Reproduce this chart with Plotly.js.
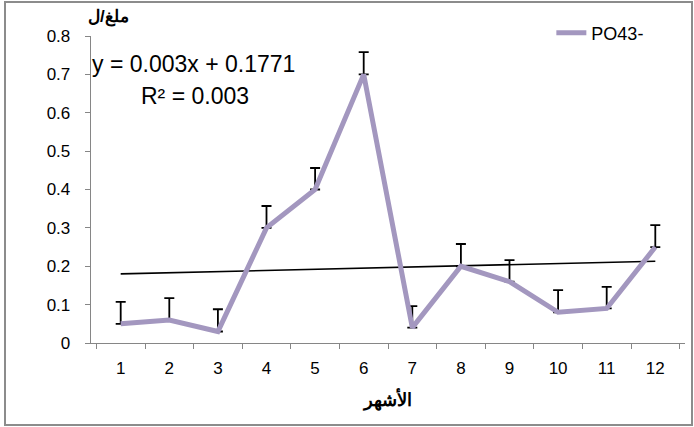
<!DOCTYPE html>
<html><head><meta charset="utf-8">
<script src="https://cdn.plot.ly/plotly-3.0.1.min.js"></script>
<style>
html,body{margin:0;padding:0;background:#fff;}
#wrap{position:relative;width:694px;height:427px;}
#chart{width:694px;height:427px;}
#frame{position:absolute;left:4px;top:1px;width:685px;height:421px;border:2px solid #8c8c8c;pointer-events:none;}
</style></head>
<body>
<div id="wrap"><div id="chart"></div><div id="frame"></div></div>
<script>
const months = ['1','2','3','4','5','6','7','8','9','10','11','12'];
const po4 = [0.05,0.06,0.03,0.30,0.40,0.70,0.04,0.20,0.16,0.08,0.09,0.25];
const errUp = [0.057,0.057,0.058,0.057,0.056,0.058,0.056,0.058,0.056,0.058,0.056,0.057];
const trendSlope = 0.003;
const trendIntercept = 0.1771;
const seriesName = 'PO43-';
const yTitle = 'ملغ/ل';
const xTitle = 'الأشهر';
const eqText = 'y = 0.003x + 0.1771';
const r2Text = 'R² = 0.003';

const trendY = months.map((m,i)=>trendSlope*(i+1)+trendIntercept);
const font = 'Liberation Sans, Arial, sans-serif';

const traces = [
 {x: months, y: trendY, type:'scatter', mode:'lines', line:{color:'#000', width:1.6}, showlegend:false, hoverinfo:'skip'},
 {x: months, y: po4, type:'scatter', mode:'lines', name: seriesName,
  line:{color:'#a397bf', width:5},
  error_y:{type:'data', symmetric:false, array: errUp, arrayminus: months.map(()=>0), color:'#000', thickness:1.8, width:5}}
];

const layout = {
 width:694, height:427,
 margin:{l:91, r:9, t:36, b:84},
 paper_bgcolor:'#fff', plot_bgcolor:'#fff',
 font:{family:font, size:17, color:'#000'},
 showlegend:true,
 legend:{x:0.775, xanchor:'left', y:1.01, yanchor:'middle', bgcolor:'rgba(0,0,0,0)', font:{size:18, family:font}},
 xaxis:{type:'category', showline:true, linecolor:'#868686', linewidth:1.3, ticks:'outside', ticklen:5, tickcolor:'#868686', tickson:'boundaries', showgrid:false, zeroline:false,
   tickfont:{size:17}, ticklabelstandoff:9, title:{text:'<b>'+xTitle+'</b>', font:{size:18}, standoff:16}},
 yaxis:{range:[0,0.8], dtick:0.1, showline:true, linecolor:'#868686', linewidth:1.3, ticks:'outside', ticklen:5, tickcolor:'#868686', showgrid:false, zeroline:false,
   tickfont:{size:17}, tickformat:'.1~f', ticklabelstandoff:11},
 annotations:[
  {xref:'paper', yref:'paper', x:-0.008, y:1.062, xanchor:'left', yanchor:'middle', text:'<b>'+yTitle+'</b>', showarrow:false, font:{size:17}},
  {xref:'paper', yref:'paper', x:0.172, y:0.908, xanchor:'center', yanchor:'middle', text:eqText, showarrow:false, font:{size:23}},
  {xref:'paper', yref:'paper', x:0.175, y:0.805, xanchor:'center', yanchor:'middle', text:r2Text, showarrow:false, font:{size:23}}
 ]
};
Plotly.newPlot('chart', traces, layout, {displayModeBar:false, staticPlot:true});
</script>
</body></html>
